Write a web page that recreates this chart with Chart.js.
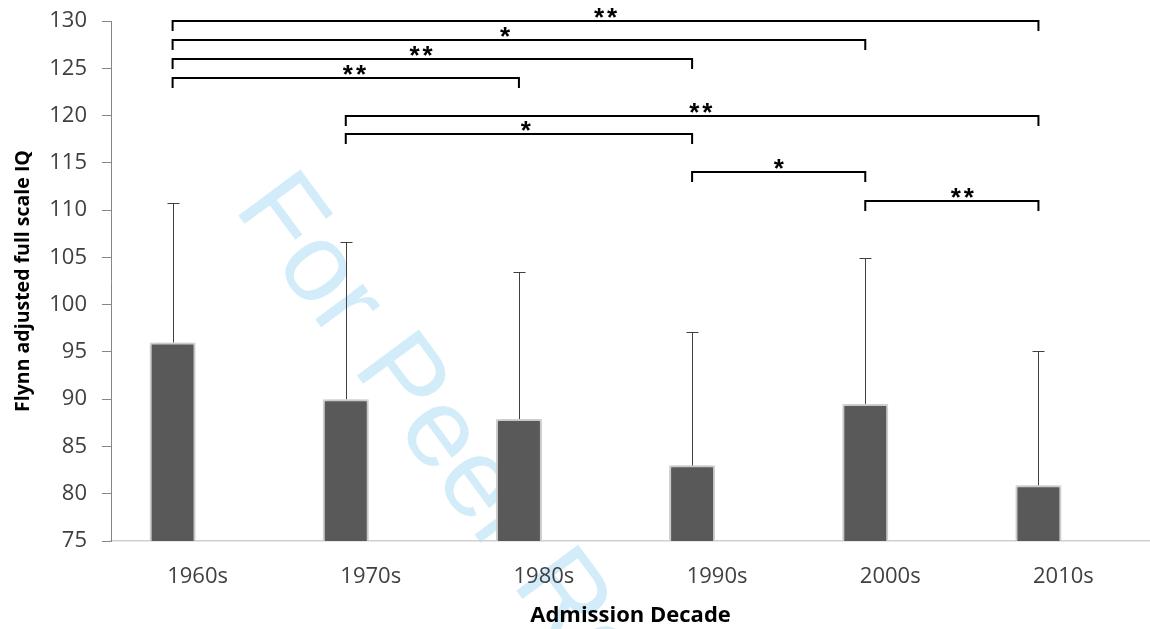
<!DOCTYPE html>
<html>
<head>
<meta charset="utf-8">
<script src="https://cdn.jsdelivr.net/npm/chart.js@4.4.0/dist/chart.umd.min.js"></script>
<style>
  html, body { margin: 0; padding: 0; background: #fff; }
  #wrap { width: 1150px; height: 629px; position: relative; }
</style>
</head>
<body>
<div id="wrap"><canvas id="iqChart"></canvas></div>
<script>
// Mean Flynn adjusted IQ by admission decade, with upper SD bars
const decades = ['1960s', '1970s', '1980s', '1990s', '2000s', '2010s'];
const meanIQ = [96.0, 90.0, 87.9, 83.0, 89.5, 80.9];
const sdIQ = [14.8, 16.6, 15.5, 14.1, 15.4, 14.2];

// Significance brackets (indexes into decades)
const sigFrom = [0, 0, 0, 0, 1, 1, 3, 4];
const sigTo = [5, 4, 3, 2, 5, 3, 4, 5];
const sigLevel = [130, 128, 126, 124, 120, 118, 114, 111];
const sigLabel = ['**', '*', '**', '**', '**', '*', '*', '**'];
const sigLabelAt = [2.5, 1.92, 1.435, 1.05, 3.05, 2.04, 3.5, 4.56];

const yTicks = [75, 80, 85, 90, 95, 100, 105, 110, 115, 120, 125, 130];

const watermark = {
    id: 'watermark',
    beforeDraw(chart) {
        const ctx = chart.ctx;
        ctx.save();
        ctx.translate(233, 208);
        ctx.rotate(53.5 * Math.PI / 180);
        ctx.font = '112px "Liberation Sans"';
        ctx.fillStyle = '#d3ecfa';
        ctx.textBaseline = 'alphabetic';
        ctx.fillText('For Peer Review', 0, 0);
        ctx.restore();
    }
};

const barShadow = {
    id: 'barShadow',
    beforeDatasetDraw(chart) {
        chart.ctx.save();
        chart.ctx.shadowColor = 'rgba(0,0,0,0.18)';
        chart.ctx.shadowBlur = 6;
    },
    afterDatasetDraw(chart) {
        chart.ctx.restore();
    }
};

const errorBars = {
    id: 'errorBars',
    afterDatasetsDraw(chart) {
        const ctx = chart.ctx;
        const y = chart.scales.y;
        const bars = chart.getDatasetMeta(0).data;
        ctx.save();
        ctx.strokeStyle = '#404040';
        ctx.lineWidth = 1;
        bars.forEach((bar, i) => {
            const x = Math.round(bar.x) + 0.5;
            const yTop = Math.round(y.getPixelForValue(meanIQ[i] + sdIQ[i])) + 0.5;
            const yBase = y.getPixelForValue(meanIQ[i]);
            ctx.beginPath();
            ctx.moveTo(x, yBase);
            ctx.lineTo(x, yTop);
            ctx.moveTo(x - 6, yTop);
            ctx.lineTo(x + 6, yTop);
            ctx.stroke();
        });
        ctx.restore();
    }
};

const brackets = {
    id: 'brackets',
    afterDatasetsDraw(chart) {
        const ctx = chart.ctx;
        const y = chart.scales.y;
        const bars = chart.getDatasetMeta(0).data;
        const step = bars[1].x - bars[0].x;
        ctx.save();
        ctx.strokeStyle = '#000';
        ctx.lineWidth = 2;
        ctx.fillStyle = '#000';
        ctx.font = 'bold 26px "Liberation Sans"';
        ctx.letterSpacing = '3px';
        ctx.textAlign = 'center';
        ctx.textBaseline = 'alphabetic';
        sigLevel.forEach((lvl, k) => {
            const x1 = bars[sigFrom[k]].x;
            const x2 = bars[sigTo[k]].x;
            const yy = Math.round(y.getPixelForValue(lvl));
            ctx.beginPath();
            ctx.moveTo(x1, yy + 10);
            ctx.lineTo(x1, yy);
            ctx.lineTo(x2, yy);
            ctx.lineTo(x2, yy + 10);
            ctx.stroke();
            const lx = bars[0].x + sigLabelAt[k] * step;
            ctx.fillText(sigLabel[k], lx + 1.5, yy + 5);
        });
        ctx.restore();
    }
};

new Chart(document.getElementById('iqChart'), {
    type: 'bar',
    data: {
        labels: decades,
        datasets: [{
            label: 'Full scale IQ',
            data: meanIQ,
            backgroundColor: '#595959',
            borderColor: '#d9d9d9',
            borderWidth: 2,
            categoryPercentage: 0.577,
            barPercentage: 0.92
        }, {
            label: '',
            data: decades.map(() => null),
            categoryPercentage: 0.577,
            barPercentage: 0.92
        }]
    },
    options: {
        responsive: true,
        maintainAspectRatio: false,
        animation: false,
        layout: { padding: { top: 21, right: 0, bottom: 0, left: 0 } },
        plugins: {
            legend: { display: false },
            tooltip: { enabled: false }
        },
        scales: {
            x: {
                afterFit: (scale) => { scale.height = 88; },
                grid: { display: false, drawTicks: false },
                border: { color: '#d0d0d0', width: 1.5 },
                ticks: {
                    font: { family: 'Open Sans', size: 22 },
                    color: '#404040',
                    padding: 23
                },
                title: {
                    display: true,
                    text: 'Admission Decade',
                    font: { family: 'Open Sans', size: 22, weight: 'bold' },
                    color: '#000',
                    padding: { top: 0, bottom: 0 }
                }
            },
            y: {
                min: 75,
                max: 130,
                afterFit: (scale) => {
                    scale.width = 111;
                    scale.paddingTop = 0;
                    scale.paddingBottom = 0;
                },
                afterBuildTicks: (axis) => { axis.ticks = yTicks.map(v => ({ value: v })); },
                grid: { drawOnChartArea: false, tickLength: 9, color: '#868686' },
                border: { color: '#868686', width: 1 },
                ticks: {
                    font: { family: 'Open Sans', size: 22 },
                    color: '#404040',
                    padding: 15
                },
                title: {
                    display: true,
                    text: 'Flynn adjusted full scale IQ',
                    font: { family: 'Open Sans', size: 19.5, weight: 'bold' },
                    color: '#000',
                    padding: { top: 12, bottom: 0 }
                }
            }
        }
    },
    plugins: [watermark, barShadow, errorBars, brackets]
});
</script>
</body>
</html>
